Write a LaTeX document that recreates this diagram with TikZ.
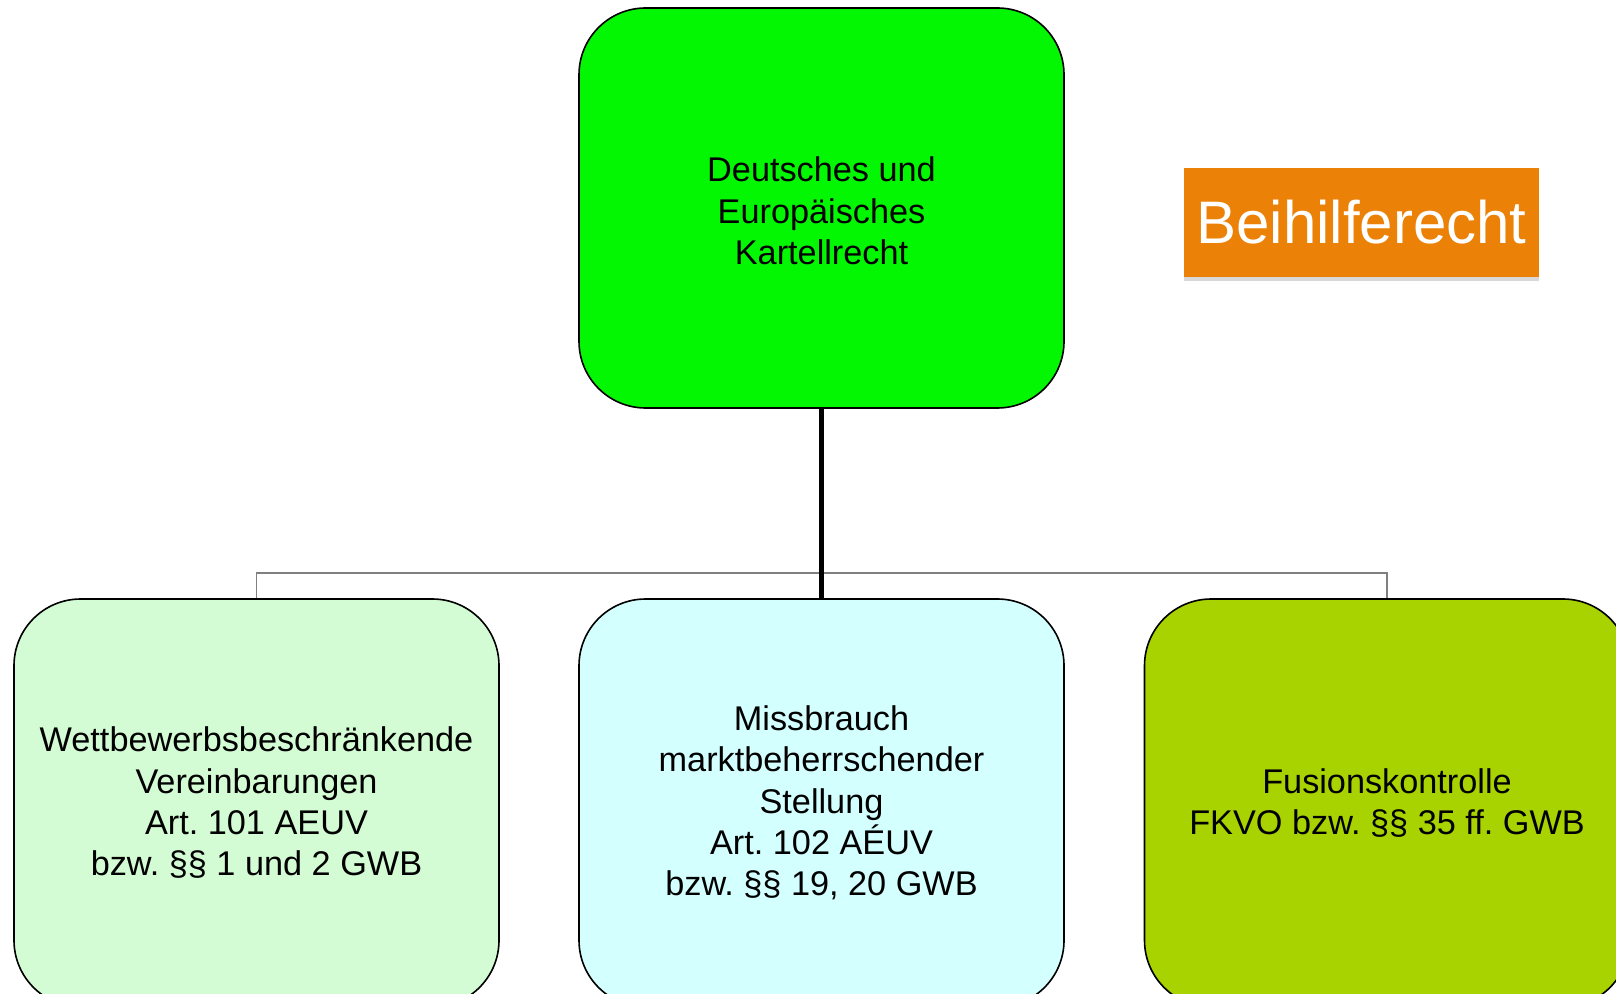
\documentclass[tikz,border=0pt]{standalone}
\usepackage{fontspec}
\setmainfont{Liberation Sans}
\usetikzlibrary{shadows}
\frenchspacing
\definecolor{topgreen}{RGB}{3,247,3}
\definecolor{lightgreen}{RGB}{212,252,212}
\definecolor{lightcyan}{RGB}{212,255,255}
\definecolor{limegreen}{RGB}{168,210,0}
\definecolor{orangebox}{RGB}{235,129,6}
\definecolor{connGray}{RGB}{128,128,128}
\tikzset{
  orgbox/.style={draw=black, line width=1.2pt, rounded corners=50pt,
    minimum width=363.75pt, align=center, inner sep=4pt,
    font=\fontsize{25.7}{31}\selectfont\frenchspacing},
  thinlink/.style={draw=connGray, line width=0.9pt},
  thicklink/.style={draw=black, line width=3.75pt},
}
\begin{document}
\begin{tikzpicture}[x=0.75pt,y=-0.75pt]
\useasboundingbox (0,0) rectangle (1616,994);
\clip (0,0) rectangle (1616,994);
\fill[white] (0,0) rectangle (1616,994);
\node[orgbox, fill=topgreen, minimum height=300pt] (top) at (821.5,208)
  {\rule{0pt}{23pt}Deutsches und\\Europäisches\\Kartellrecht};
\node[orgbox, fill=lightgreen, minimum height=306pt] (left) at (256.5,803)
  {Wettbewerbsbeschränkende\\Vereinbarungen\\Art. 101 AEUV\\bzw. §§ 1 und 2 GWB};
\node[orgbox, fill=lightcyan, minimum height=306pt] (mid) at (821.5,803)
  {Missbrauch\\marktbeherrschender\\Stellung\\Art. 102 AÉUV\\bzw. §§ 19, 20 GWB};
\node[orgbox, fill=limegreen, minimum height=306pt] (right) at (1387,803)
  {Fusionskontrolle\\FKVO bzw. §§ 35 ff. GWB};
\coordinate (hub) at (821.5,573);
\draw[thinlink] (left.north) -- (left.north |- hub) -- (right.north |- hub) -- (right.north);
\draw[thicklink] (top.south) -- (mid.north);
\node[fill=orangebox, text=white, minimum width=266pt, minimum height=82pt,
  inner sep=0pt, font=\fontsize{45}{54}\selectfont,
  drop shadow={shadow xshift=0pt, shadow yshift=-3pt, opacity=0.3}] (beihilfe) at (1361.5,222.5) {Beihilferecht};
\end{tikzpicture}
\end{document}
